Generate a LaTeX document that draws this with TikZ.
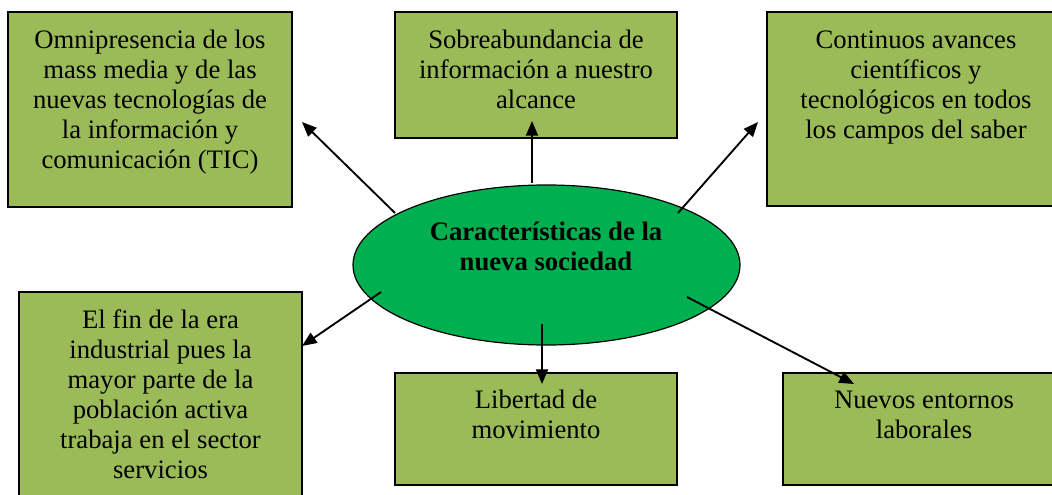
\documentclass[tikz,border=0pt]{standalone}
\usepackage{fontspec}
\setmainfont{Liberation Serif}
\usetikzlibrary{shapes.geometric,arrows.meta}
\definecolor{boxgreen}{RGB}{155,187,89}
\definecolor{ellgreen}{RGB}{0,176,80}
\tikzset{
  boxnode/.style={draw=black, line width=1.3pt, fill=boxgreen, rectangle, inner sep=0pt},
  txt/.style={anchor=north, align=center, inner sep=0pt, font=\fontsize{20}{22.5}\selectfont},
  ellnode/.style={draw=black, line width=0.9pt, fill=ellgreen, ellipse, inner sep=0pt, minimum width=290.25pt, minimum height=120pt},
  arr/.style={line width=1.4pt, -{Triangle[length=11pt,width=9pt]}}
}
\newcommand{\fl}{\rule{0pt}{16pt}}
\begin{document}
\begin{tikzpicture}[x=0.75pt,y=-0.75pt]
\useasboundingbox (0,0) rectangle (1052,495);
\clip (0,0) rectangle (1052,495);
% boxes
\node[boxnode, minimum width=213pt, minimum height=146.25pt] (b1) at (150,109.5) {};
\node[boxnode, minimum width=211.5pt, minimum height=94.5pt] (b2) at (536,75) {};
\node[boxnode, minimum width=223.5pt, minimum height=145.5pt] (b3) at (916,109) {};
\node[boxnode, minimum width=212.25pt, minimum height=156pt] (b4) at (160.5,396) {};
\node[boxnode, minimum width=211.5pt, minimum height=84pt] (b5) at (536,429) {};
\node[boxnode, minimum width=211.5pt, minimum height=84pt] (b6) at (924,429) {};
% texts
\node[txt] (t1) at (150,26.67) {\fl Omnipresencia de los\\mass media y de las\\nuevas tecnologías de\\la información y\\comunicación (TIC)};
\node[txt] (t2) at (536,26.67) {\fl Sobreabundancia de\\información a nuestro\\alcance};
\node[txt] (t3) at (916,26.67) {\fl Continuos avances\\científicos y\\tecnológicos en todos\\los campos del saber};
\node[txt] (t4) at (160.5,306.67) {\fl El fin de la era\\industrial pues la\\mayor parte de la\\población activa\\trabaja en el sector\\servicios};
\node[txt] (t5) at (536,386.67) {\fl Libertad de\\movimiento};
\node[txt] (t6) at (924,386.67) {\fl Nuevos entornos\\laborales};
% ellipse
\node[ellnode] (ell) at (546.5,265) {};
\node[txt, font=\fontsize{20}{22.5}\selectfont\bfseries] (te) at (546,218.67) {\fl Características de la\\nueva sociedad};
% arrow endpoints
\coordinate (s1) at (395,213);
\coordinate (e1) at (302,122);
\coordinate (s2) at (532,183);
\coordinate (e2) at (532,121);
\coordinate (s3) at (678,213);
\coordinate (e3) at (758,122);
\coordinate (s4) at (381,292);
\coordinate (e4) at (302,346);
\coordinate (s5) at (542,324);
\coordinate (e5) at (542,384);
\coordinate (s6) at (687,297);
\coordinate (e6) at (854,384);
\draw[arr] (s1) -- (e1);
\draw[arr] (s2) -- (e2);
\draw[arr] (s3) -- (e3);
\draw[arr] (s4) -- (e4);
\draw[arr] (s5) -- (e5);
\draw[arr] (s6) -- (e6);
\end{tikzpicture}
\end{document}
